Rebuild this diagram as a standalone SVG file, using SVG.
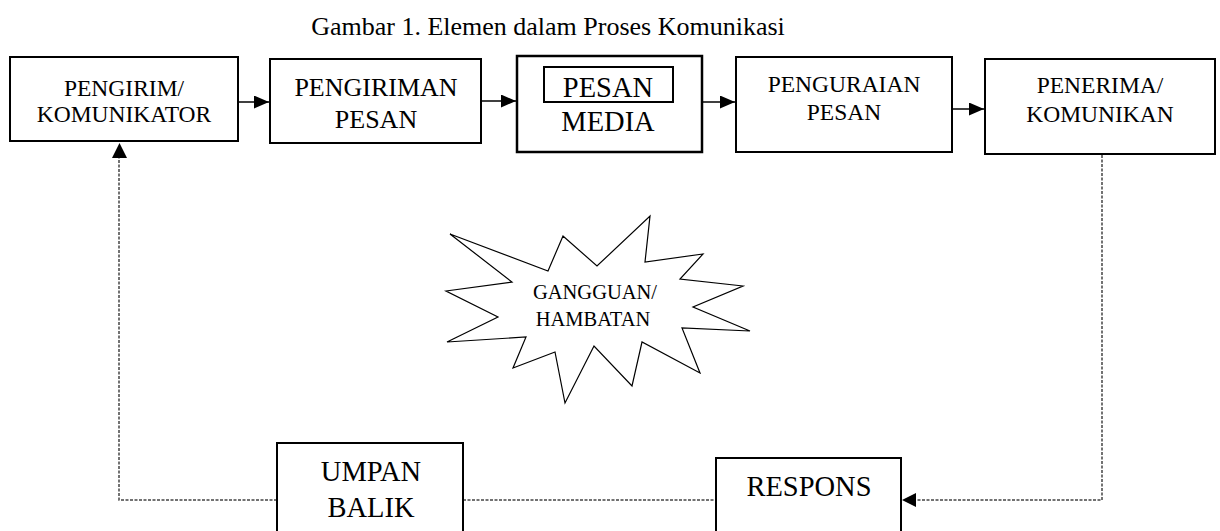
<svg xmlns="http://www.w3.org/2000/svg" width="1220" height="531" viewBox="0 0 1220 531">
<style>
  .t { font-family: "Liberation Serif", "Times New Roman", serif; fill: #000; text-anchor: middle; }
  .box { fill: #fff; stroke: #000; stroke-width: 2; }
  .solid { stroke: #000; stroke-width: 1.5; fill: none; }
  .dash { stroke: #444; stroke-width: 1.5; fill: none; stroke-dasharray: 3 1.5; }
  .s24 { font-size: 23.5px; }
  .s26 { font-size: 26px; }
  .s28 { font-size: 28.5px; }
  .s20 { font-size: 20.5px; }
</style>
<defs>
  <marker id="ah" viewBox="0 0 15 13" refX="15" refY="6.5" markerWidth="15" markerHeight="13" markerUnits="userSpaceOnUse" orient="auto">
    <path d="M0,0 L15,6.5 L0,13 Z" fill="#000"/>
  </marker>
</defs>
<rect width="1220" height="531" fill="#fff"/>
<text class="t s26" x="548" y="35" font-family="Liberation Serif, serif">Gambar 1. Elemen dalam Proses Komunikasi</text>

<g id="connectors">
  <line class="solid" x1="238" y1="102" x2="269" y2="102" marker-end="url(#ah)"/>
  <line class="solid" x1="482" y1="101" x2="516" y2="101" marker-end="url(#ah)"/>
  <line class="solid" x1="703" y1="102" x2="735" y2="102" marker-end="url(#ah)"/>
  <line class="solid" x1="952" y1="109" x2="984" y2="109" marker-end="url(#ah)"/>
  <polyline class="dash" points="1102,155 1102,500 916,500"/>
  <path d="M916,493 L902,500 L916,507 Z" fill="#000"/>
  <line class="dash" x1="463" y1="500" x2="716" y2="500"/>
  <polyline class="dash" points="277,500 119,500 119,158"/>
  <path d="M112,158 L119.5,143 L127,158 Z" fill="#000"/>
</g>

<g id="pengirim" font-family="Liberation Serif, serif">
  <rect class="box" x="10" y="57" width="228" height="84"/>
  <text class="t s24" x="124" y="96">PENGIRIM/</text>
  <text class="t s24" x="124" y="122">KOMUNIKATOR</text>
</g>
<g id="pengiriman" font-family="Liberation Serif, serif">
  <rect class="box" x="270" y="59" width="211" height="84"/>
  <text class="t s26" x="376" y="96">PENGIRIMAN</text>
  <text class="t s26" x="376" y="128">PESAN</text>
</g>
<g id="media" font-family="Liberation Serif, serif">
  <rect class="box" x="517" y="56" width="185" height="96" style="stroke-width:2.5"/>
  <rect class="box" x="544" y="67" width="129" height="35"/>
  <text class="t s28" x="608" y="97">PESAN</text>
  <text class="t s28" x="608" y="131">MEDIA</text>
</g>
<g id="penguraian" font-family="Liberation Serif, serif">
  <rect class="box" x="736" y="57" width="216" height="95"/>
  <text class="t s24" x="844" y="92">PENGURAIAN</text>
  <text class="t s24" x="844" y="120">PESAN</text>
</g>
<g id="penerima" font-family="Liberation Serif, serif">
  <rect class="box" x="985" y="59" width="230" height="95"/>
  <text class="t s24" x="1100" y="93">PENERIMA/</text>
  <text class="t s24" x="1100" y="122">KOMUNIKAN</text>
</g>
<g id="gangguan" font-family="Liberation Serif, serif">
  <polygon fill="#fff" stroke="#000" stroke-width="1.2" points="450,234 548,271 563,236 597,266 650,216 645,262 703,254 680,279 743,286 693,307 750,331 682,328 700,373 642,342 632,386 594,346 565,403 555,352 513,368 526,337 447,342 498,317 446,291 512,282"/>
  <text class="t s20" x="595" y="299">GANGGUAN/</text>
  <text class="t s20" x="593" y="326">HAMBATAN</text>
</g>
<g id="umpan-balik" font-family="Liberation Serif, serif">
  <rect class="box" x="277" y="443" width="186" height="100"/>
  <text class="t s28" x="371" y="481">UMPAN</text>
  <text class="t s28" x="371" y="517">BALIK</text>
</g>
<g id="respons" font-family="Liberation Serif, serif">
  <rect class="box" x="716" y="458" width="185" height="90"/>
  <text class="t s28" x="809" y="496">RESPONS</text>
</g>
</svg>
